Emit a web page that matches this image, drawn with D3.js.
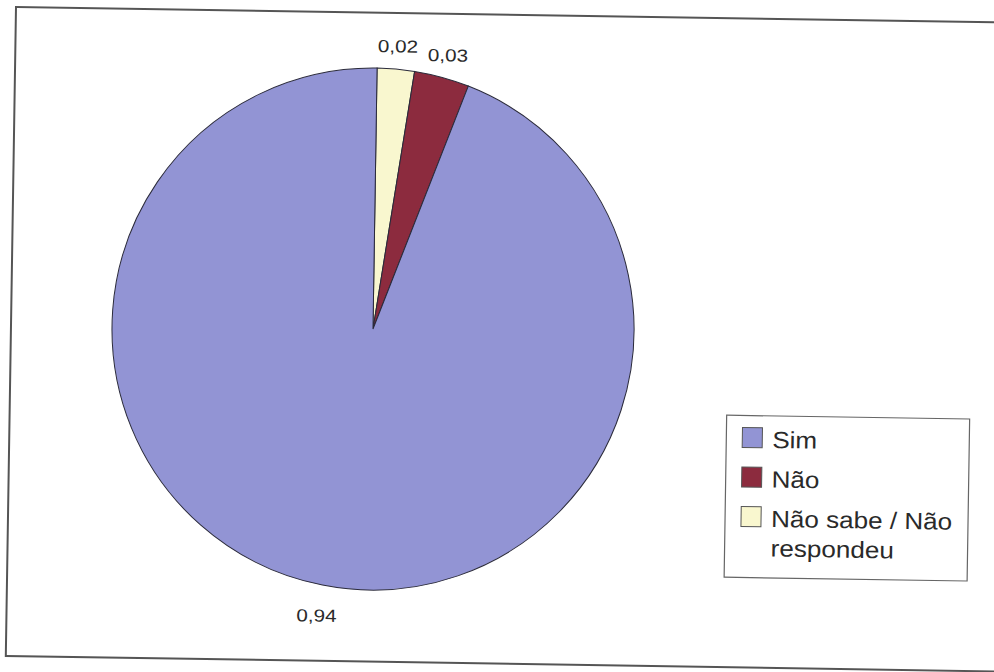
<!DOCTYPE html>
<html><head><meta charset="utf-8">
<script src="https://cdn.jsdelivr.net/npm/d3@7"></script>
<style>html,body{margin:0;padding:0;background:#fff}svg{display:block}</style>
</head><body>
<svg id="chart" width="994" height="672"></svg>
<script>
// Data
const categories = ["Sim", "Não", "Não sabe / Não respondeu"];
const values = [0.943, 0.034, 0.023];
const valueLabels = ["0,94", "0,03", "0,02"];
const colors = ["#9294d4", "#8c2b3e", "#f9f7cf"];
const legendLines = [["Sim"], ["Não"], ["Não sabe / Não", "respondeu"]];

const svg = d3.select("#chart");
const g = svg.append("g").attr("transform", "rotate(0.9,16,7)");

// frame
g.append("rect").attr("x", 16).attr("y", 7).attr("width", 1000).attr("height", 649)
  .attr("fill", "none").attr("stroke", "#555").attr("stroke-width", 2);

const cx = 378, cy = 323.4, r = 261;
// drawing order (clockwise from 12 o'clock): Não sabe, Não, Sim
const order = [2, 1, 0];
const pie = d3.pie().sort(null).value(i => values[i]);
const arcs = pie(order);
const arc = d3.arc().innerRadius(0).outerRadius(r);

const pg = g.append("g").attr("transform", `translate(${cx},${cy})`);
pg.selectAll("path").data(arcs).join("path")
  .attr("d", arc)
  .attr("fill", d => colors[d.data])
  .attr("stroke", "#2a2a3a").attr("stroke-width", 1);

pg.selectAll("g.lbl").data(arcs).join("g").attr("class", "lbl")
  .attr("transform", d => {
    const a = (d.startAngle + d.endAngle) / 2;
    const dist = r + 23 + 8 * Math.max(0, -Math.cos(a));
    return `translate(${dist * Math.sin(a)},${-dist * Math.cos(a)}) scale(1.18,1)`;
  })
  .append("text")
  .attr("text-anchor", "middle").attr("dy", "0.35em")
  .attr("font-family", "'Liberation Sans', Arial, sans-serif")
  .attr("font-size", 17.5).attr("fill", "#2a2a2a")
  .text(d => valueLabels[d.data]);

// legend
const lx = 733, ly = 404;
const lg = g.append("g").attr("transform", `translate(${lx},${ly})`);
lg.append("rect").attr("width", 243).attr("height", 162)
  .attr("fill", "#fff").attr("stroke", "#666").attr("stroke-width", 1.2);
const items = lg.selectAll("g.item").data(categories).join("g").attr("class", "item")
  .attr("transform", (d, i) => `translate(0,${i * 39.5})`);
items.append("rect").attr("x", 16).attr("y", 12).attr("width", 20).attr("height", 20)
  .attr("fill", (d, i) => colors[i]).attr("stroke", "#555").attr("stroke-width", 1);
items.each(function(d, i) {
  const it = d3.select(this);
  legendLines[i].forEach((line, j) => {
    it.append("g").attr("transform", `translate(46,${32 + j * 29.5}) scale(1.11,1)`)
      .append("text")
      .attr("font-family", "'Liberation Sans', Arial, sans-serif")
      .attr("font-size", 23.5).attr("fill", "#2a2a2a")
      .text(line);
  });
});
</script>
</body></html>
